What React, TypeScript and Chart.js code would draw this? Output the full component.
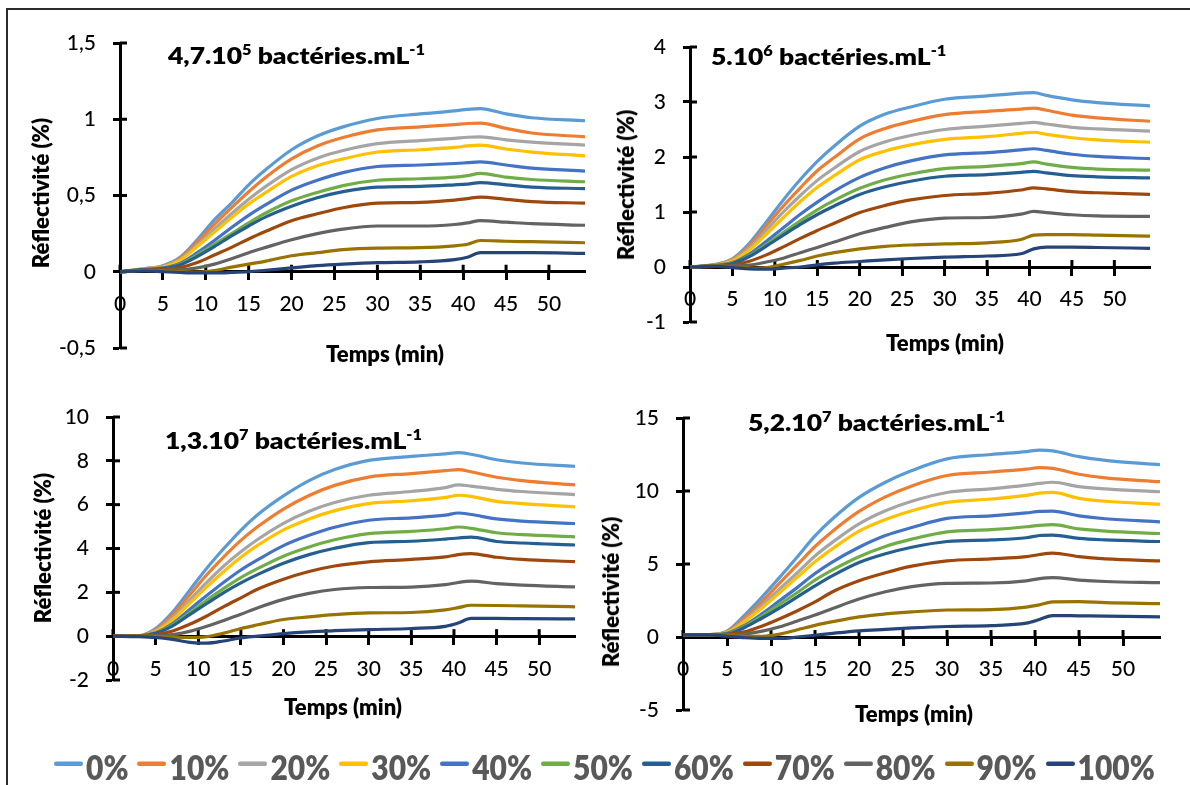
import React, { useEffect, useRef } from "react";
import { Chart, registerables } from "chart.js";

Chart.register(...registerables);

// ---------- data ----------
const TIME = [0, 3, 5, 7, 9, 11, 13, 15, 17, 20, 23, 26, 30, 35, 39, 40.5, 42, 45, 48, 54.2];

const SERIES_LABELS = ["0%", "10%", "20%", "30%", "40%", "50%", "60%", "70%", "80%", "90%", "100%"];
const SERIES_COLORS = [
  "#5B9BD5", "#ED7D31", "#A5A5A5", "#FFC000", "#4472C4", "#70AD47",
  "#255E91", "#9E480E", "#636363", "#997300", "#264478",
];

const X_TICKS = ["0", "5", "10", "15", "20", "25", "30", "35", "40", "45", "50"];

const P1_Y_TICKS = ["-0,5", "0", "0,5", "1", "1,5"];
const P2_Y_TICKS = ["-1", "0", "1", "2", "3", "4"];
const P3_Y_TICKS = ["-2", "0", "2", "4", "6", "8", "10"];
const P4_Y_TICKS = ["-5", "0", "5", "10", "15"];

const P1_TITLE = ["4,7.10", "5", " bactéries.mL", "-1"];
const P2_TITLE = ["5.10", "6", " bactéries.mL", "-1"];
const P3_TITLE = ["1,3.10", "7", " bactéries.mL", "-1"];
const P4_TITLE = ["5,2.10", "7", " bactéries.mL", "-1"];

const X_TITLE = "Temps (min)";
const Y_TITLE = "Réflectivité (%)";

// 4,7.10^5 bacteria/mL
const P1_VALUES = [
  [0, 0.02, 0.04, 0.095, 0.21, 0.34, 0.45, 0.57, 0.67, 0.80, 0.89, 0.95, 1.005, 1.035, 1.055, 1.065, 1.07, 1.035, 1.01, 0.99],
  [0, 0.02, 0.035, 0.088, 0.195, 0.31, 0.42, 0.525, 0.62, 0.74, 0.825, 0.88, 0.93, 0.95, 0.965, 0.972, 0.975, 0.94, 0.91, 0.885],
  [0, 0.02, 0.035, 0.08, 0.175, 0.28, 0.38, 0.475, 0.56, 0.67, 0.745, 0.795, 0.84, 0.86, 0.875, 0.882, 0.885, 0.865, 0.85, 0.83],
  [0, 0.02, 0.03, 0.075, 0.165, 0.26, 0.355, 0.445, 0.52, 0.625, 0.695, 0.74, 0.785, 0.80, 0.815, 0.825, 0.83, 0.805, 0.785, 0.76],
  [0, 0.015, 0.025, 0.055, 0.125, 0.205, 0.29, 0.37, 0.44, 0.535, 0.60, 0.65, 0.69, 0.70, 0.71, 0.715, 0.72, 0.70, 0.68, 0.66],
  [0, 0.015, 0.02, 0.048, 0.11, 0.18, 0.25, 0.32, 0.385, 0.465, 0.52, 0.565, 0.60, 0.61, 0.62, 0.63, 0.645, 0.62, 0.605, 0.59],
  [0, 0.015, 0.02, 0.045, 0.10, 0.165, 0.235, 0.30, 0.36, 0.43, 0.485, 0.525, 0.555, 0.56, 0.57, 0.575, 0.585, 0.57, 0.555, 0.545],
  [0, 0.01, 0.015, 0.027, 0.06, 0.11, 0.16, 0.215, 0.265, 0.335, 0.38, 0.42, 0.45, 0.455, 0.47, 0.48, 0.49, 0.475, 0.46, 0.45],
  [0, 0.01, 0.01, 0.012, 0.025, 0.05, 0.085, 0.125, 0.16, 0.21, 0.25, 0.28, 0.30, 0.30, 0.31, 0.32, 0.335, 0.325, 0.315, 0.305],
  [0, 0.01, 0.005, 0.0, -0.003, 0.008, 0.03, 0.05, 0.07, 0.105, 0.125, 0.145, 0.155, 0.158, 0.17, 0.18, 0.205, 0.20, 0.197, 0.19],
  [0, 0.005, 0.0, -0.005, -0.008, -0.008, -0.005, 0.0, 0.01, 0.025, 0.04, 0.05, 0.06, 0.065, 0.08, 0.095, 0.125, 0.125, 0.125, 0.12],
];

// 5.10^6 bacteria/mL
const P2_VALUES = [
  [0, 0.05, 0.15, 0.43, 0.82, 1.22, 1.59, 1.92, 2.2, 2.56, 2.78, 2.91, 3.05, 3.11, 3.16, 3.17, 3.12, 3.04, 2.99, 2.93],
  [0, 0.04, 0.14, 0.39, 0.75, 1.11, 1.44, 1.75, 1.99, 2.33, 2.52, 2.645, 2.77, 2.83, 2.87, 2.89, 2.85, 2.76, 2.71, 2.65],
  [0, 0.04, 0.125, 0.35, 0.675, 1.0, 1.3, 1.575, 1.8, 2.1, 2.275, 2.39, 2.50, 2.56, 2.61, 2.63, 2.6, 2.54, 2.51, 2.47],
  [0, 0.035, 0.11, 0.31, 0.6, 0.9, 1.19, 1.45, 1.66, 1.95, 2.11, 2.22, 2.32, 2.37, 2.43, 2.45, 2.41, 2.35, 2.31, 2.27],
  [0, 0.03, 0.08, 0.235, 0.47, 0.715, 0.96, 1.18, 1.38, 1.63, 1.805, 1.93, 2.04, 2.08, 2.13, 2.15, 2.12, 2.05, 2.01, 1.97],
  [0, 0.03, 0.07, 0.205, 0.41, 0.625, 0.84, 1.04, 1.21, 1.43, 1.585, 1.69, 1.79, 1.83, 1.88, 1.91, 1.87, 1.81, 1.78, 1.76],
  [0, 0.025, 0.065, 0.19, 0.38, 0.58, 0.775, 0.955, 1.11, 1.32, 1.46, 1.56, 1.65, 1.68, 1.72, 1.74, 1.71, 1.66, 1.64, 1.62],
  [0, 0.013, 0.04, 0.105, 0.22, 0.365, 0.52, 0.665, 0.795, 0.99, 1.12, 1.22, 1.30, 1.34, 1.40, 1.44, 1.42, 1.37, 1.35, 1.32],
  [0, 0.02, 0.02, 0.035, 0.09, 0.16, 0.26, 0.355, 0.455, 0.605, 0.72, 0.82, 0.89, 0.90, 0.96, 1.01, 0.99, 0.95, 0.93, 0.92],
  [0, 0.02, 0.0, -0.02, -0.01, 0.05, 0.12, 0.2, 0.26, 0.33, 0.375, 0.40, 0.42, 0.44, 0.50, 0.58, 0.59, 0.59, 0.58, 0.56],
  [0, 0.01, -0.01, -0.035, -0.04, -0.02, 0.0, 0.04, 0.07, 0.10, 0.13, 0.155, 0.18, 0.20, 0.24, 0.33, 0.36, 0.36, 0.355, 0.34],
];

// 1,3.10^7 bacteria/mL
const P3_VALUES = [
  [0, 0.02, 0.35, 1.1, 2.1, 3.1, 4.0, 4.83, 5.55, 6.4, 7.1, 7.6, 8.02, 8.2, 8.32, 8.37, 8.3, 8.05, 7.9, 7.75],
  [0, 0.02, 0.3, 0.98, 1.88, 2.8, 3.62, 4.37, 5.0, 5.8, 6.42, 6.88, 7.26, 7.42, 7.55, 7.6, 7.5, 7.25, 7.1, 6.9],
  [0, 0.015, 0.25, 0.85, 1.65, 2.45, 3.2, 3.85, 4.42, 5.15, 5.7, 6.1, 6.43, 6.6, 6.78, 6.9, 6.85, 6.7, 6.6, 6.46],
  [0, 0.015, 0.2, 0.75, 1.5, 2.25, 2.95, 3.6, 4.15, 4.85, 5.35, 5.73, 6.05, 6.18, 6.33, 6.43, 6.38, 6.15, 6.05, 5.9],
  [0, 0.01, 0.16, 0.58, 1.22, 1.85, 2.46, 3.02, 3.49, 4.13, 4.6, 4.97, 5.29, 5.4, 5.52, 5.62, 5.55, 5.35, 5.25, 5.14],
  [0, 0.01, 0.14, 0.51, 1.08, 1.64, 2.18, 2.67, 3.09, 3.65, 4.07, 4.4, 4.68, 4.78, 4.9, 4.98, 4.92, 4.72, 4.63, 4.53],
  [0, 0.01, 0.13, 0.47, 0.98, 1.49, 1.99, 2.43, 2.82, 3.33, 3.72, 4.01, 4.27, 4.33, 4.43, 4.48, 4.52, 4.32, 4.25, 4.16],
  [0, 0.01, 0.07, 0.24, 0.54, 0.92, 1.35, 1.75, 2.15, 2.6, 2.95, 3.2, 3.39, 3.5, 3.62, 3.72, 3.77, 3.6, 3.5, 3.4],
  [0, 0.01, 0.02, 0.07, 0.22, 0.45, 0.72, 1.0, 1.3, 1.68, 1.95, 2.13, 2.22, 2.24, 2.35, 2.45, 2.51, 2.4, 2.33, 2.25],
  [0, 0.0, -0.01, -0.04, -0.06, -0.02, 0.14, 0.35, 0.52, 0.76, 0.88, 0.98, 1.06, 1.08, 1.2, 1.3, 1.41, 1.4, 1.38, 1.34],
  [0, -0.02, -0.06, -0.15, -0.28, -0.32, -0.22, -0.08, 0.0, 0.12, 0.2, 0.25, 0.3, 0.35, 0.45, 0.6, 0.81, 0.81, 0.8, 0.79],
];

// 5,2.10^7 bacteria/mL
const P4_VALUES = [
  [0.15, 0.17, 0.4, 1.5, 2.75, 4.1, 5.5, 6.93, 8.1, 9.56, 10.6, 11.4, 12.2, 12.5, 12.7, 12.8, 12.75, 12.35, 12.1, 11.81],
  [0.15, 0.16, 0.36, 1.3, 2.45, 3.7, 4.95, 6.2, 7.25, 8.6, 9.6, 10.35, 11.06, 11.3, 11.5, 11.6, 11.55, 11.15, 10.9, 10.64],
  [0.15, 0.16, 0.32, 1.15, 2.2, 3.3, 4.4, 5.55, 6.5, 7.75, 8.65, 9.3, 9.9, 10.15, 10.4, 10.52, 10.6, 10.3, 10.15, 9.95],
  [0.15, 0.16, 0.3, 1.05, 2.0, 3.05, 4.1, 5.15, 6.05, 7.25, 8.05, 8.65, 9.22, 9.45, 9.7, 9.85, 9.9, 9.5, 9.3, 9.1],
  [0.15, 0.16, 0.25, 0.8, 1.6, 2.5, 3.4, 4.35, 5.15, 6.15, 6.95, 7.5, 8.12, 8.3, 8.5, 8.6, 8.62, 8.3, 8.1, 7.89],
  [0.15, 0.16, 0.22, 0.72, 1.45, 2.25, 3.05, 3.9, 4.6, 5.5, 6.2, 6.7, 7.2, 7.35, 7.55, 7.65, 7.7, 7.4, 7.25, 7.09],
  [0.15, 0.16, 0.2, 0.65, 1.3, 2.0, 2.75, 3.5, 4.2, 5.1, 5.7, 6.15, 6.54, 6.65, 6.8, 6.95, 6.98, 6.75, 6.65, 6.54],
  [0.15, 0.16, 0.18, 0.35, 0.75, 1.25, 1.8, 2.4, 3.1, 3.85, 4.4, 4.85, 5.21, 5.35, 5.5, 5.65, 5.75, 5.5, 5.35, 5.21],
  [0.15, 0.16, 0.16, 0.2, 0.4, 0.7, 1.1, 1.5, 1.95, 2.6, 3.1, 3.45, 3.67, 3.7, 3.85, 4.0, 4.07, 3.9, 3.8, 3.72],
  [0.15, 0.15, 0.12, 0.05, 0.05, 0.2, 0.5, 0.8, 1.05, 1.38, 1.58, 1.72, 1.85, 1.88, 2.05, 2.2, 2.41, 2.42, 2.35, 2.29],
  [0.15, 0.14, 0.05, -0.05, -0.1, -0.1, 0.0, 0.12, 0.25, 0.42, 0.52, 0.62, 0.72, 0.78, 0.95, 1.2, 1.47, 1.45, 1.43, 1.38],
];

// ---------- layout ----------
const W = 1190;
const H = 785;
const YW = 60;
const X_MAX = 54.2;

type PanelCfg = {
  values: number[][];
  yMin: number;
  yMax: number;
  yStep: number;
  yTicks: string[];
  area: { left: number; right: number; top: number; bottom: number };
  title: string[];
  titlePos: { left: number; cy: number };
  xTitlePos: { cx: number; cy: number };
  yTitlePos: { cx: number; cy: number };
};

const PANELS: PanelCfg[] = [
  {
    values: P1_VALUES, yMin: -0.5, yMax: 1.5, yStep: 0.5, yTicks: P1_Y_TICKS,
    area: { left: 120, right: 585, top: 43, bottom: 348 },
    title: P1_TITLE, titlePos: { left: 168, cy: 55 },
    xTitlePos: { cx: 385, cy: 354 }, yTitlePos: { cx: 41, cy: 193 },
  },
  {
    values: P2_VALUES, yMin: -1, yMax: 4, yStep: 1, yTicks: P2_Y_TICKS,
    area: { left: 690, right: 1150, top: 47, bottom: 322 },
    title: P2_TITLE, titlePos: { left: 711, cy: 56 },
    xTitlePos: { cx: 945, cy: 343 }, yTitlePos: { cx: 626, cy: 185 },
  },
  {
    values: P3_VALUES, yMin: -2, yMax: 10, yStep: 2, yTicks: P3_Y_TICKS,
    area: { left: 113, right: 575, top: 417, bottom: 680 },
    title: P3_TITLE, titlePos: { left: 165, cy: 440 },
    xTitlePos: { cx: 343, cy: 707 }, yTitlePos: { cx: 43, cy: 548 },
  },
  {
    values: P4_VALUES, yMin: -5, yMax: 15, yStep: 5, yTicks: P4_Y_TICKS,
    area: { left: 683, right: 1160, top: 418, bottom: 710 },
    title: P4_TITLE, titlePos: { left: 748, cy: 422 },
    xTitlePos: { cx: 914, cy: 714 }, yTitlePos: { cx: 611, cy: 592 },
  },
];

const TICK_FONT = { family: "Lato", size: 21, weight: "500" as any };

// draws the inner half of the Excel-style "cross" tick marks
const crossTicks = {
  id: "crossTicks",
  beforeDatasetsDraw(chart: any) {
    const { ctx, chartArea } = chart;
    const xs = chart.scales.x;
    const ys = chart.scales.y;
    const y0 = ys.getPixelForValue(0);
    ctx.save();
    ctx.strokeStyle = "#000";
    ctx.lineWidth = 3;
    xs.ticks.forEach((t: any) => {
      const px = xs.getPixelForValue(t.value);
      ctx.beginPath();
      ctx.moveTo(px, y0);
      ctx.lineTo(px, y0 - 7);
      ctx.stroke();
    });
    ys.ticks.forEach((t: any) => {
      const py = ys.getPixelForValue(t.value);
      ctx.beginPath();
      ctx.moveTo(chartArea.left, py);
      ctx.lineTo(chartArea.left + 7, py);
      ctx.stroke();
    });
    ctx.restore();
  },
};

function Panel({ cfg }: { cfg: PanelCfg }) {
  const ref = useRef<HTMLCanvasElement>(null);
  useEffect(() => {
    const a = cfg.area;
    const chart = new Chart(ref.current as HTMLCanvasElement, {
      type: "line",
      data: {
        datasets: cfg.values.map((vals, i) => ({
          label: SERIES_LABELS[i],
          data: vals.map((v, j) => ({ x: TIME[j], y: v })),
          borderColor: SERIES_COLORS[i],
          backgroundColor: SERIES_COLORS[i],
          borderWidth: 3.2,
          pointRadius: 0,
          fill: false,
          cubicInterpolationMode: "monotone" as const,
          order: 10 - i,
        })),
      },
      options: {
        animation: false,
        responsive: false,
        layout: {
          padding: { left: a.left - YW, top: a.top, right: W - a.right, bottom: H - a.bottom },
        },
        plugins: { legend: { display: false }, tooltip: { enabled: false }, title: { display: false } },
        scales: {
          x: {
            type: "linear",
            min: 0,
            max: X_MAX,
            position: { y: 0 } as any,
            afterFit: (s: any) => { s.height = 0; },
            ticks: {
              stepSize: 5,
              includeBounds: false,
              autoSkip: false,
              maxRotation: 0,
              padding: 13,
              color: "#000",
              font: TICK_FONT,
              callback: (_v: any, idx: number) => X_TICKS[idx],
            },
            grid: { drawOnChartArea: false, drawTicks: true, tickLength: 7, tickWidth: 3, tickColor: "#000" },
            border: { display: true, color: "#000", width: 3 },
          },
          y: {
            type: "linear",
            min: cfg.yMin,
            max: cfg.yMax,
            position: "left",
            afterFit: (s: any) => { s.width = YW; },
            ticks: {
              stepSize: cfg.yStep,
              padding: 17,
              color: "#000",
              font: TICK_FONT,
              callback: (_v: any, idx: number) => cfg.yTicks[idx],
            },
            grid: { drawOnChartArea: false, drawTicks: true, tickLength: 7, tickWidth: 3, tickColor: "#000" },
            border: { display: true, color: "#000", width: 3 },
          },
        },
      },
      plugins: [crossTicks],
    } as any);
    return () => chart.destroy();
  }, [cfg]);
  return (
    <canvas
      ref={ref}
      width={W}
      height={H}
      style={{ position: "absolute", left: 0, top: 0, width: W, height: H }}
    />
  );
}

const supStyle: React.CSSProperties = {
  fontSize: "0.62em",
  verticalAlign: "baseline",
  position: "relative",
  top: "-0.66em",
};

export default function App() {
  return (
    <div
      style={{
        position: "absolute",
        left: 0,
        top: 0,
        width: W,
        height: H,
        background: "#fff",
        overflow: "hidden",
        fontFamily: "Lato, 'Open Sans', sans-serif",
        color: "#000",
      }}
    >
      <div
        style={{
          position: "absolute",
          left: 6,
          top: 8,
          width: W,
          height: H,
          borderTop: "2px solid #2b2b2b",
          borderLeft: "2px solid #2b2b2b",
        }}
      />
      {PANELS.map((p, i) => (
        <Panel key={i} cfg={p} />
      ))}
      {PANELS.map((p, i) => (
        <React.Fragment key={"t" + i}>
          <div
            style={{
              position: "absolute",
              left: p.titlePos.left,
              top: p.titlePos.cy,
              transform: "translateY(-50%) scaleX(1.15)",
              transformOrigin: "left center",
              font: "800 23px Lato",
              lineHeight: 1,
              whiteSpace: "nowrap",
            }}
          >
            {p.title[0]}
            <span style={supStyle}>{p.title[1]}</span>
            {p.title[2]}
            <span style={supStyle}>{p.title[3]}</span>
          </div>
          <div
            style={{
              position: "absolute",
              left: p.xTitlePos.cx,
              top: p.xTitlePos.cy,
              transform: "translate(-50%, -50%)",
              font: "800 22px Lato",
              lineHeight: 1,
              whiteSpace: "nowrap",
            }}
          >
            {X_TITLE}
          </div>
          <div
            style={{
              position: "absolute",
              left: p.yTitlePos.cx,
              top: p.yTitlePos.cy,
              transform: "translate(-50%, -50%) rotate(-90deg)",
              font: "800 22px Lato",
              lineHeight: 1,
              whiteSpace: "nowrap",
            }}
          >
            {Y_TITLE}
          </div>
        </React.Fragment>
      ))}
      <div
        style={{
          position: "absolute",
          left: 54,
          top: 766,
          transform: "translateY(-50%) scaleY(1.15)",
          display: "flex",
          alignItems: "center",
          font: "800 30px Lato",
          lineHeight: 1,
          color: "#595959",
          whiteSpace: "nowrap",
        }}
      >
        {SERIES_LABELS.map((lab, i) => (
          <div key={lab} style={{ display: "flex", alignItems: "center", marginRight: 9 }}>
            <span
              style={{
                display: "inline-block",
                width: 29,
                height: 4,
                borderRadius: 2,
                background: SERIES_COLORS[i],
                marginRight: 3,
                position: "relative",
                top: -2,
              }}
            />
            <span>{lab}</span>
          </div>
        ))}
      </div>
    </div>
  );
}
